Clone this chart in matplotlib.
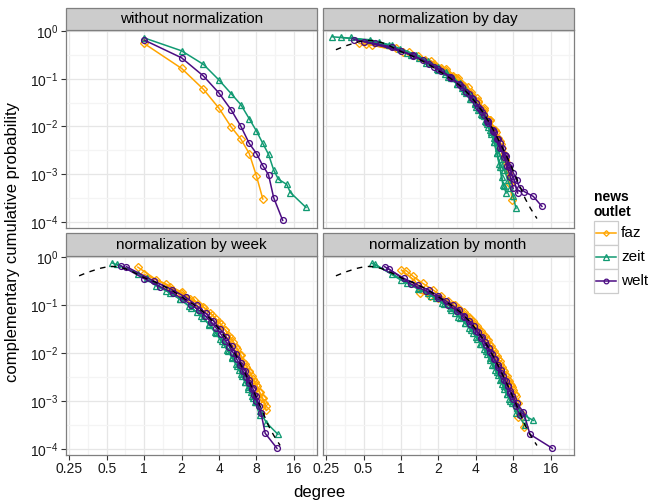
import matplotlib
matplotlib.use("Agg")
import matplotlib.pyplot as plt
from matplotlib.lines import Line2D
from matplotlib.patches import Rectangle
import matplotlib.ticker as mticker

plt.rcParams['font.family'] = ['Liberation Sans', 'DejaVu Sans']
plt.rcParams['mathtext.fontset'] = 'custom'
plt.rcParams['mathtext.rm'] = 'Liberation Sans'
plt.rcParams['mathtext.it'] = 'Liberation Sans:italic'
plt.rcParams['mathtext.bf'] = 'Liberation Sans:bold'

# ---------------- data ----------------
outlets = ["faz", "zeit", "welt"]
colors = {"faz": "#FFA500", "zeit": "#119A72", "welt": "#4B0C82"}
markers = {"faz": "D", "zeit": "^", "welt": "o"}
msizes = {"faz": 3.6, "zeit": 4.6, "welt": 4.2}

panel_titles = ["without normalization", "normalization by day",
                "normalization by week", "normalization by month"]

x_ticks = [0.25, 0.5, 1, 2, 4, 8, 16]
x_tick_labels = ["0.25", "0.5", "1", "2", "4", "8", "16"]
y_ticks = [1, 1e-1, 1e-2, 1e-3, 1e-4]
y_tick_labels = ["$10^{0}$", "$10^{-1}$", "$10^{-2}$", "$10^{-3}$", "$10^{-4}$"]

# without normalization
raw_faz_x = [1, 2, 3, 4, 5, 6, 7, 8, 9]
raw_faz_y = [0.55, 0.165, 0.06, 0.024, 0.0098, 0.0054, 0.0027, 0.00091, 0.0003]
raw_zeit_x = [1, 2, 3, 4, 5, 6, 7, 8, 9, 10, 11, 12, 14, 15, 20]
raw_zeit_y = [0.72, 0.386, 0.20, 0.094, 0.049, 0.0285, 0.0145, 0.008, 0.0044,
              0.0026, 0.00122, 0.00078, 0.00061, 0.00041, 0.0002]
raw_welt_x = [1, 2, 3, 4, 5, 6, 7, 8, 9, 10, 11, 13]
raw_welt_y = [0.65, 0.275, 0.114, 0.05, 0.0224, 0.01, 0.0044, 0.0027, 0.0015,
              0.00097, 0.00032, 0.000107]

# normalization by day (several days per outlet)
day_faz_x = [
    [0.46, 0.92, 1.38, 1.84, 2.3, 2.76, 3.22, 3.68, 4.14, 4.6, 5.06, 5.52, 5.98, 6.44, 6.9, 7.36, 7.82],
    [0.58, 1.16, 1.74, 2.32, 2.9, 3.48, 4.06, 4.64, 5.22, 5.8, 6.38, 6.96, 7.54],
    [0.52, 1.04, 1.56, 2.08, 2.6, 3.12, 3.64, 4.16, 4.68, 5.2, 5.72, 6.24, 6.76, 7.28],
]
day_faz_y = [
    [0.55, 0.437, 0.302, 0.209, 0.148, 0.105, 0.072, 0.048, 0.032, 0.0214, 0.0138, 0.0089, 0.0056, 0.0035, 0.0021, 0.00105, 0.00029],
    [0.51, 0.363, 0.240, 0.158, 0.105, 0.066, 0.040, 0.024, 0.0135, 0.0076, 0.0042, 0.0018, 0.00063],
    [0.537, 0.372, 0.251, 0.170, 0.117, 0.079, 0.052, 0.034, 0.022, 0.0138, 0.0085, 0.0050, 0.0026, 0.0011],
]
day_zeit_x = [
    [0.28, 0.56, 0.84, 1.12, 1.4, 1.68, 1.96, 2.24, 2.52, 2.8, 3.08, 3.36, 3.64, 3.92, 4.2, 4.48, 4.76, 5.04, 5.32, 5.6, 5.88, 6.16, 6.44, 6.72, 7.0],
    [0.4, 0.8, 1.2, 1.6, 2.0, 2.4, 2.8, 3.2, 3.6, 4.0, 4.4, 4.8, 5.2, 5.6, 6.0, 6.4, 6.8, 7.2, 7.6, 8.0, 8.4],
    [0.33, 0.66, 0.99, 1.32, 1.65, 1.98, 2.31, 2.64, 2.97, 3.3, 3.63, 3.96, 4.29, 4.62, 4.95, 5.28, 5.61, 5.94, 6.27, 6.6],
]
day_zeit_y = [
    [0.76, 0.66, 0.50, 0.355, 0.27, 0.21, 0.162, 0.129, 0.102, 0.079, 0.065, 0.050, 0.038, 0.0295, 0.0224, 0.0174, 0.0132, 0.0095, 0.0069, 0.0047, 0.0028, 0.0016, 0.00089, 0.00056, 0.0004],
    [0.74, 0.50, 0.316, 0.214, 0.151, 0.110, 0.079, 0.055, 0.038, 0.026, 0.018, 0.0126, 0.0085, 0.0056, 0.0035, 0.0021, 0.0012, 0.00076, 0.0005, 0.00035, 0.00019],
    [0.74, 0.60, 0.43, 0.316, 0.234, 0.178, 0.138, 0.105, 0.081, 0.060, 0.045, 0.0316, 0.023, 0.0162, 0.0112, 0.0076, 0.0048, 0.0028, 0.0014, 0.00059],
]
day_welt_x = [
    [0.5, 1.0, 1.5, 2.0, 2.5, 3.0, 3.5, 4.0, 4.5, 5.0, 5.5, 6.0, 6.5, 7.0, 7.5, 8.0, 8.5, 9.0, 9.8, 11.6, 13.6],
    [0.62, 1.24, 1.86, 2.48, 3.1, 3.72, 4.34, 4.96, 5.58, 6.2, 6.82, 7.44, 8.06, 8.68],
    [0.42, 0.84, 1.26, 1.68, 2.1, 2.52, 2.94, 3.36, 3.78, 4.2, 4.62, 5.04, 5.46, 5.88, 6.3, 6.72, 7.14, 7.56, 7.98],
]
day_welt_y = [
    [0.603, 0.380, 0.251, 0.162, 0.110, 0.074, 0.049, 0.0316, 0.0204, 0.0132, 0.0085, 0.0055, 0.0036, 0.0024, 0.00158, 0.00107, 0.00076, 0.00052, 0.00043, 0.00034, 0.00021],
    [0.55, 0.316, 0.178, 0.107, 0.066, 0.039, 0.0229, 0.0132, 0.0076, 0.0044, 0.0025, 0.0014, 0.00079, 0.0004],
    [0.66, 0.468, 0.302, 0.209, 0.148, 0.105, 0.076, 0.054, 0.038, 0.026, 0.0178, 0.012, 0.0081, 0.0054, 0.0035, 0.00234, 0.00148, 0.00089, 0.0005],
]

# normalization by week
week_faz_x = [
    [0.89, 1.25, 1.61, 1.97, 2.33, 2.69, 3.05, 3.41, 3.77, 4.13, 4.49, 4.85, 5.21, 5.57, 5.93, 6.29, 6.65, 7.01, 7.37, 7.73, 8.09, 8.45, 8.81, 9.2, 9.6],
    [1.0, 1.5, 2.0, 2.5, 3.0, 3.5, 4.0, 4.5, 5.0, 5.5, 6.0, 6.5, 7.0, 7.5, 8.0, 8.5, 9.0, 9.5],
]
week_faz_y = [
    [0.617, 0.339, 0.240, 0.178, 0.135, 0.107, 0.087, 0.068, 0.051, 0.040, 0.030, 0.023, 0.0166, 0.012, 0.0089, 0.0066, 0.0052, 0.0042, 0.0033, 0.0025, 0.002, 0.0015, 0.00117, 0.00089, 0.00063],
    [0.437, 0.275, 0.186, 0.129, 0.091, 0.063, 0.044, 0.030, 0.0204, 0.0135, 0.0089, 0.0059, 0.004, 0.0028, 0.0021, 0.0015, 0.00112, 0.00079],
]
week_zeit_x = [
    [0.55, 0.9, 1.25, 1.6, 1.95, 2.3, 2.65, 3.0, 3.35, 3.7, 4.05, 4.4, 4.75, 5.1, 5.45, 5.8, 6.15, 6.5, 6.85, 7.2, 7.55, 7.9, 8.6, 9.6, 11.9],
    [0.6, 1.05, 1.5, 1.95, 2.4, 2.85, 3.3, 3.75, 4.2, 4.65, 5.1, 5.55, 6.0, 6.45, 6.9, 7.35, 7.8, 8.5],
]
week_zeit_y = [
    [0.76, 0.45, 0.251, 0.182, 0.132, 0.095, 0.071, 0.054, 0.039, 0.028, 0.020, 0.0151, 0.011, 0.0081, 0.006, 0.0045, 0.0033, 0.0025, 0.00195, 0.0015, 0.00117, 0.00095, 0.0006, 0.00035, 0.0002],
    [0.72, 0.37, 0.20, 0.132, 0.087, 0.060, 0.040, 0.026, 0.0174, 0.0115, 0.0079, 0.0054, 0.0036, 0.0025, 0.00178, 0.00126, 0.00095, 0.0005],
]
week_welt_x = [
    [0.65, 1.0, 1.35, 1.7, 2.05, 2.4, 2.75, 3.1, 3.45, 3.8, 4.15, 4.5, 4.85, 5.2, 5.55, 5.9, 6.25, 6.6, 6.95, 7.3, 7.65, 8.0, 8.7, 9.4, 11.7],
    [0.72, 1.2, 1.68, 2.16, 2.64, 3.12, 3.6, 4.08, 4.56, 5.04, 5.52, 6.0, 6.48, 6.96, 7.44, 7.92, 8.4],
]
week_welt_y = [
    [0.66, 0.355, 0.24, 0.178, 0.132, 0.100, 0.078, 0.059, 0.045, 0.033, 0.0245, 0.018, 0.0135, 0.010, 0.0074, 0.0055, 0.0041, 0.0031, 0.00234, 0.00174, 0.00132, 0.001, 0.00056, 0.00021, 0.000102],
    [0.631, 0.316, 0.209, 0.145, 0.098, 0.068, 0.047, 0.0316, 0.0214, 0.0141, 0.0093, 0.0062, 0.0042, 0.00275, 0.00186, 0.00126, 0.00079],
]

# normalization by month
month_faz_x = [
    [1.01, 1.3, 1.42, 1.7, 2.0, 2.3, 2.6, 2.9, 3.2, 3.5, 3.8, 4.1, 4.4, 4.7, 5.0, 5.3, 5.6, 5.9, 6.2, 6.5, 6.8, 7.1, 7.4, 7.7, 8.0, 8.4, 8.8, 9.2, 9.7],
    [1.1, 1.25, 1.5, 1.8, 2.1, 2.4, 2.7, 3.0, 3.3, 3.6, 3.9, 4.2, 4.5, 4.8, 5.1, 5.4, 5.7, 6.0, 6.3, 6.6, 6.9, 7.2, 7.5, 7.8, 8.2, 8.7],
]
month_faz_y = [
    [0.537, 0.316, 0.178, 0.158, 0.138, 0.117, 0.100, 0.085, 0.071, 0.0575, 0.047, 0.037, 0.0288, 0.0229, 0.0182, 0.0141, 0.0112, 0.0087, 0.0068, 0.0052, 0.0042, 0.0033, 0.0026, 0.0021, 0.00166, 0.00126, 0.00089, 0.00056, 0.00028],
    [0.525, 0.398, 0.282, 0.209, 0.158, 0.123, 0.098, 0.079, 0.063, 0.050, 0.040, 0.0316, 0.0251, 0.020, 0.0155, 0.012, 0.0095, 0.0074, 0.0058, 0.0045, 0.0035, 0.00275, 0.0023, 0.0019, 0.0014, 0.00045],
]
month_zeit_x = [
    [0.58, 0.85, 1.12, 1.39, 1.66, 1.93, 2.2, 2.47, 2.74, 3.01, 3.28, 3.55, 3.82, 4.09, 4.36, 4.63, 4.9, 5.17, 5.44, 5.71, 5.98, 6.25, 6.52, 6.79, 7.06, 7.6, 8.4, 10.0],
    [0.62, 1.0, 1.38, 1.76, 2.14, 2.52, 2.9, 3.28, 3.66, 4.04, 4.42, 4.8, 5.18, 5.56, 5.94, 6.32, 6.7, 7.08, 7.46, 7.84, 8.6, 9.4, 10.2, 11.6],
]
month_zeit_y = [
    [0.75, 0.447, 0.295, 0.224, 0.174, 0.138, 0.107, 0.085, 0.068, 0.054, 0.042, 0.033, 0.0257, 0.020, 0.0155, 0.012, 0.0093, 0.0072, 0.0056, 0.0044, 0.0035, 0.00275, 0.0022, 0.00174, 0.0014, 0.001, 0.00056, 0.00031],
    [0.708, 0.331, 0.214, 0.155, 0.110, 0.079, 0.0575, 0.042, 0.030, 0.0214, 0.0155, 0.0112, 0.0079, 0.0056, 0.004, 0.0028, 0.002, 0.0014, 0.00107, 0.00089, 0.00071, 0.00056, 0.00047, 0.00039],
]
month_welt_x = [
    [0.74, 1.05, 1.36, 1.67, 1.98, 2.29, 2.6, 2.91, 3.22, 3.53, 3.84, 4.15, 4.46, 4.77, 5.08, 5.39, 5.7, 6.01, 6.32, 6.63, 6.94, 7.25, 7.56, 7.87, 8.5, 9.65, 10.9, 16.5],
    [0.8, 1.2, 1.6, 2.0, 2.4, 2.8, 3.2, 3.6, 4.0, 4.4, 4.8, 5.2, 5.6, 6.0, 6.4, 6.8, 7.2, 7.6, 8.0, 8.4, 9.0],
]
month_welt_y = [
    [0.631, 0.363, 0.263, 0.204, 0.158, 0.123, 0.098, 0.078, 0.060, 0.047, 0.036, 0.0275, 0.0214, 0.0166, 0.0126, 0.0095, 0.0074, 0.0056, 0.0044, 0.0033, 0.0026, 0.0020, 0.00162, 0.00129, 0.00089, 0.00059, 0.0002, 0.000102],
    [0.562, 0.275, 0.195, 0.141, 0.102, 0.076, 0.055, 0.040, 0.029, 0.0209, 0.0148, 0.0105, 0.0074, 0.0052, 0.0038, 0.00275, 0.002, 0.00145, 0.00107, 0.00079, 0.0005],
]

# fitted distribution (dashed)
fit_x = [0.30, 0.35, 0.40, 0.45, 0.50, 0.55, 0.60, 0.70, 0.80, 0.90, 1.0, 1.25, 1.5, 1.75,
         2.0, 2.5, 3.0, 3.5, 4.0, 4.5, 5.0, 5.5, 6.0, 6.5, 7.0, 7.5, 8.0, 9.0, 10.0, 11.0, 12.4]
fit_y = [0.407, 0.479, 0.537, 0.589, 0.624, 0.638, 0.631, 0.575, 0.501, 0.427, 0.372, 0.295,
         0.234, 0.186, 0.148, 0.102, 0.0708, 0.0479, 0.0316, 0.0209, 0.0135, 0.0087, 0.00562,
         0.00372, 0.00251, 0.0017, 0.00117, 0.000575, 0.000302, 0.000191, 0.000117]

panel_data = [
    {"faz": ([raw_faz_x], [raw_faz_y]), "zeit": ([raw_zeit_x], [raw_zeit_y]),
     "welt": ([raw_welt_x], [raw_welt_y])},
    {"faz": (day_faz_x, day_faz_y), "zeit": (day_zeit_x, day_zeit_y),
     "welt": (day_welt_x, day_welt_y)},
    {"faz": (week_faz_x, week_faz_y), "zeit": (week_zeit_x, week_zeit_y),
     "welt": (week_welt_x, week_welt_y)},
    {"faz": (month_faz_x, month_faz_y), "zeit": (month_zeit_x, month_zeit_y),
     "welt": (month_welt_x, month_welt_y)},
]
show_fit = [False, True, True, True]

# ---------------- layout ----------------
W, H = 652, 504
fig = plt.figure(figsize=(W / 100, H / 100), dpi=100)

col_x = [65.7, 322.5]
pw = 251.0
rows = [(30.0, 228.0, 7.5), (256.0, 455.0, 233.0)]  # panel top, panel bottom, strip top

xlim = (0.234, 24.4)
ylim = (7.4e-5, 1.055)
minor_x = [2 ** (k + 0.5) for k in range(-3, 5)]
minor_y = [10 ** (-(k + 0.5)) for k in range(0, 5)]

border_col = "#7F7F7F"
text_col = "#1A1A1A"

for i in range(4):
    r, c = divmod(i, 2)
    top, bot, stop = rows[r]
    x0 = col_x[c]
    ax = fig.add_axes([x0 / W, (H - bot) / H, pw / W, (bot - top) / H])
    ax.set_xscale("log")
    ax.set_yscale("log")
    ax.set_xlim(*xlim)
    ax.set_ylim(*ylim)
    ax.xaxis.set_major_locator(mticker.FixedLocator(x_ticks))
    ax.yaxis.set_major_locator(mticker.FixedLocator(y_ticks))
    ax.xaxis.set_minor_locator(mticker.FixedLocator(minor_x))
    ax.yaxis.set_minor_locator(mticker.FixedLocator(minor_y))
    ax.xaxis.set_minor_formatter(mticker.NullFormatter())
    ax.yaxis.set_minor_formatter(mticker.NullFormatter())
    ax.grid(True, which="major", color="#E6E6E6", lw=0.9, zorder=0)
    ax.grid(True, which="minor", color="#F4F4F4", lw=0.9, zorder=0)
    ax.set_axisbelow(True)
    for s in ax.spines.values():
        s.set_color(border_col)
        s.set_linewidth(0.9)
        s.set_zorder(10)
    ax.tick_params(which="minor", length=0)
    ax.tick_params(which="major", length=3.3, width=0.8, color="#333333",
                   labelsize=10, labelcolor=text_col, pad=2)
    if r == 1:
        ax.set_xticklabels(x_tick_labels)
    else:
        ax.tick_params(axis="x", which="major", length=0, labelbottom=False)
    if c == 0:
        ax.set_yticklabels(y_tick_labels)
    else:
        ax.tick_params(axis="y", which="major", length=0, labelleft=False)

    for o in outlets:
        xs_list, ys_list = panel_data[i][o]
        for xs, ys in zip(xs_list, ys_list):
            ax.plot(xs, ys, color=colors[o], lw=1.1, marker=markers[o],
                    ms=msizes[o], mfc="none", mec=colors[o], mew=0.95, zorder=3,
                    clip_on=True)
    if show_fit[i]:
        ax.plot(fit_x, fit_y, color="black", lw=1.0, ls=(0, (4, 4)), zorder=5)

    # strip
    sh = top - stop
    fig.add_artist(Rectangle((x0 / W, (H - top) / H), pw / W, sh / H,
                             transform=fig.transFigure, facecolor="#CCCCCC",
                             edgecolor=border_col, lw=0.9))
    fig.text((x0 + pw / 2) / W, (H - (top + stop) / 2) / H, panel_titles[i],
             ha="center", va="center", fontsize=11, color="black")

# axis titles
fig.text(((col_x[0] + col_x[1] + pw) / 2) / W, (H - 492) / H, "degree",
         ha="center", va="center", fontsize=12, color="black")
fig.text(13 / W, (H - 242.5) / H, "complementary cumulative probability",
         ha="center", va="center", rotation=90, fontsize=12, color="black")

# legend (drawn by hand to mimic ggplot keys)
fig.text(594 / W, (H - 190) / H, "news\noutlet", ha="left", va="top",
         fontsize=10, fontweight="bold", linespacing=1.05)
key_top = 221.0
key_h = 24.0
for j, o in enumerate(outlets):
    ky = key_top + j * key_h
    fig.add_artist(Rectangle((594 / W, (H - ky - key_h) / H), 24 / W, key_h / H,
                             transform=fig.transFigure, facecolor="white",
                             edgecolor="#CCCCCC", lw=0.9))
    cy = (H - ky - key_h / 2) / H
    fig.add_artist(Line2D([596 / W, 616 / W], [cy, cy], transform=fig.transFigure,
                          color=colors[o], lw=1.1))
    fig.add_artist(Line2D([606 / W], [cy], transform=fig.transFigure,
                          color=colors[o], marker=markers[o], ms=msizes[o] * 0.8,
                          mfc="none", mec=colors[o], mew=0.9))
    fig.text(621 / W, cy, o, ha="left", va="center", fontsize=11, color="black")

fig.savefig("out.png", dpi=100)
